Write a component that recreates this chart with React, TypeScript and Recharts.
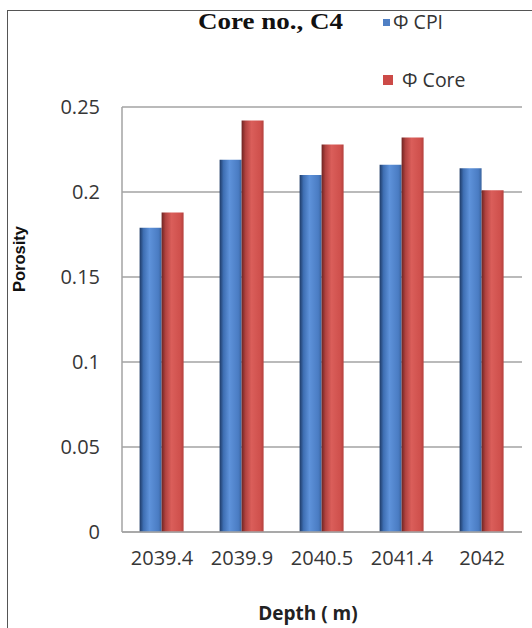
import React from 'react';
import { BarChart, Bar, XAxis, YAxis, CartesianGrid, Legend } from 'recharts';

const depths = ['2039.4', '2039.9', '2040.5', '2041.4', '2042'];
const phiCpi = [0.179, 0.219, 0.21, 0.216, 0.214];
const phiCore = [0.188, 0.242, 0.228, 0.232, 0.201];
const yTicks = [0, 0.05, 0.1, 0.15, 0.2, 0.25];

const seriesNames = ['\u03A6 CPI', '\u03A6 Core'];

const chartData = depths.map((depth, i) => ({
  depth,
  cpi: phiCpi[i],
  core: phiCore[i],
}));

const tickStyle = { fill: '#363636', fontSize: 20, fontFamily: 'Open Sans' };

function PorosityLegend() {
  return (
    <div style={{ position: 'relative', width: 150, height: 90, fontFamily: 'Open Sans', fontSize: 19.5, color: '#333' }}>
      <span style={{ position: 'absolute', left: 0, top: 7, width: 7, height: 7, background: '#4f7fc4' }} />
      <span style={{ position: 'absolute', left: 10, top: -2, lineHeight: '24px' }}>{seriesNames[0]}</span>
      <span style={{ position: 'absolute', left: 0, top: 63, width: 10, height: 10, background: '#cc4a47' }} />
      <span style={{ position: 'absolute', left: 19, top: 56, lineHeight: '24px' }}>{seriesNames[1]}</span>
    </div>
  );
}

export default function App() {
  return (
    <div style={{ position: 'absolute', left: 0, top: 0, width: 532, height: 628, background: '#fff' }}>
      <div
        style={{
          position: 'absolute',
          left: 7,
          top: 10,
          width: 525,
          height: 618,
          borderLeft: '1.5px solid #555',
          borderTop: '1.5px solid #555',
          boxSizing: 'border-box',
        }}
      />
      <svg style={{ position: 'absolute', left: 0, top: 0 }} width={532} height={60}>
        <text
          x={198}
          y={29}
          textLength={145}
          lengthAdjust="spacingAndGlyphs"
          style={{ fontFamily: 'Liberation Serif', fontWeight: 'bold', fontSize: 23, fill: '#111' }}
        >
          Core no., C4
        </text>
      </svg>
      <div style={{ position: 'absolute', left: 0, top: 0 }}>
        <BarChart
          width={532}
          height={628}
          data={chartData}
          margin={{ top: 107, right: 10, bottom: 0, left: 0 }}
          barCategoryGap="22%"
          barGap={0}
        >
          <defs>
            <linearGradient id="cpiFill" x1="0" y1="0" x2="1" y2="0">
              <stop offset="0%" stopColor="#1e3a66" />
              <stop offset="18%" stopColor="#3f6fb3" />
              <stop offset="45%" stopColor="#5e92da" />
              <stop offset="85%" stopColor="#4a7cc3" />
              <stop offset="100%" stopColor="#3a649f" />
            </linearGradient>
            <linearGradient id="coreFill" x1="0" y1="0" x2="1" y2="0">
              <stop offset="0%" stopColor="#6e2422" />
              <stop offset="18%" stopColor="#b24340" />
              <stop offset="45%" stopColor="#da5e5a" />
              <stop offset="85%" stopColor="#cf504c" />
              <stop offset="100%" stopColor="#b4413e" />
            </linearGradient>
          </defs>
          <CartesianGrid vertical={false} stroke="#a3a3a3" strokeWidth={1.5} />
          <XAxis
            dataKey="depth"
            height={96}
            tickLine={false}
            tickMargin={13}
            axisLine={{ stroke: '#a3a3a3', strokeWidth: 1.5 }}
            tick={tickStyle}
            label={() => (
              <text
                x={308}
                y={620}
                textAnchor="middle"
                style={{ fontFamily: 'Open Sans', fontWeight: 'bold', fontSize: 19, fill: '#222' }}
              >
                Depth ( m)
              </text>
            )}
          />
          <YAxis
            width={122}
            domain={[0, 0.25]}
            ticks={yTicks}
            tickFormatter={(v: number) => String(v)}
            tickLine={false}
            tickMargin={16}
            axisLine={{ stroke: '#a3a3a3', strokeWidth: 1.5 }}
            tick={tickStyle}
            label={() => (
              <text
                x={25}
                y={259}
                textAnchor="middle"
                transform="rotate(-90 25 259)"
                style={{ fontFamily: 'Liberation Sans', fontWeight: 'bold', fontSize: 16.5, fill: '#111' }}
              >
                Porosity
              </text>
            )}
          />
          <Legend
            layout="vertical"
            align="center"
            verticalAlign="middle"
            wrapperStyle={{ top: 12, left: 383, width: 150, height: 90 }}
            content={() => <PorosityLegend />}
          />
          <Bar dataKey="cpi" name={seriesNames[0]} fill="url(#cpiFill)" isAnimationActive={false} />
          <Bar dataKey="core" name={seriesNames[1]} fill="url(#coreFill)" isAnimationActive={false} />
        </BarChart>
      </div>
    </div>
  );
}
